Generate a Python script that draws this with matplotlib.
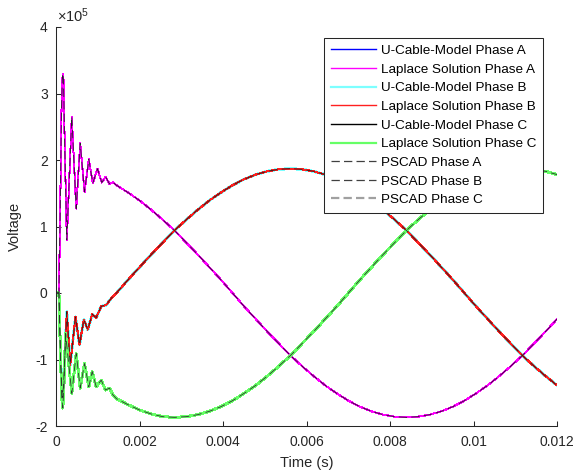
import matplotlib
matplotlib.use("Agg")
import matplotlib.pyplot as plt

plt.rcParams['font.family'] = ['Liberation Sans', 'DejaVu Sans']
plt.rcParams['mathtext.fontset'] = 'custom'
plt.rcParams['mathtext.rm'] = 'Liberation Sans'
plt.rcParams['axes.unicode_minus'] = False
plt.rcParams['lines.scale_dashes'] = False

# ---- data: time in seconds, voltage in units of 1e5 V ----
# switching transient (first ~1.4 ms), per phase
trans_time_a = [0, 0.00007, 0.00010, 0.00013, 0.00015, 0.000163, 0.00018, 0.00021,
                0.000259, 0.000378, 0.000484, 0.000580, 0.000683, 0.000786, 0.000881,
                0.000994, 0.001097, 0.001186, 0.001281, 0.001360]
trans_volt_a = [0, 0.0, 1.2, 2.7, 3.2, 3.30, 3.2, 2.2,
                0.80, 2.65, 1.27, 2.25, 1.52, 2.01, 1.65,
                1.87, 1.66, 1.75, 1.64, 1.665]

trans_time_b = [0, 0.00007, 0.00011, 0.00015, 0.00018, 0.000259, 0.000340, 0.000467,
                0.000563, 0.000666, 0.000762, 0.000867, 0.000963, 0.001083, 0.001202,
                0.001322]
trans_volt_b = [0, 0.0, -1.0, -1.57, -1.40, -0.28, -1.08, -0.36,
                -0.78, -0.40, -0.55, -0.32, -0.37, -0.20, -0.18,
                -0.08]

trans_time_c = [0, 0.00007, 0.00011, 0.00014, 0.000163, 0.00019, 0.000228, 0.000379,
                0.000484, 0.000580, 0.000683, 0.000786, 0.000867, 0.000963, 0.001083,
                0.001186, 0.001281, 0.001360]
trans_volt_c = [0, 0.0, -1.0, -1.6, -1.73, -1.4, -0.61, -1.51,
                -0.91, -1.43, -1.06, -1.41, -1.18, -1.41, -1.31,
                -1.46, -1.43, -1.53]

# quasi steady-state part, common time base
steady_time = [0.001449, 0.001727, 0.002004, 0.002282, 0.002560, 0.002838, 0.003116,
               0.003393, 0.003671, 0.003949, 0.004227, 0.004504, 0.004782, 0.005060,
               0.005338, 0.005616, 0.005893, 0.006171, 0.006449, 0.006727, 0.007004,
               0.007282, 0.007560, 0.007838, 0.008116, 0.008393, 0.008671, 0.008949,
               0.009227, 0.009504, 0.009782, 0.010060, 0.010338, 0.010616, 0.010893,
               0.011171, 0.011449, 0.011727, 0.012004]
steady_volt_a = [1.62, 1.51, 1.39, 1.25, 1.10, 0.94, 0.76, 0.58, 0.39, 0.20, 0.00,
                 -0.20, -0.39, -0.58, -0.76, -0.94, -1.10, -1.25, -1.39, -1.51, -1.62,
                 -1.71, -1.78, -1.83, -1.86, -1.87, -1.86, -1.83, -1.78, -1.71, -1.62,
                 -1.51, -1.39, -1.25, -1.10, -0.94, -0.76, -0.58, -0.39]
steady_volt_b = [0.00, 0.20, 0.39, 0.58, 0.76, 0.94, 1.10, 1.25, 1.39, 1.51, 1.62,
                 1.71, 1.78, 1.83, 1.86, 1.87, 1.86, 1.83, 1.78, 1.71, 1.62,
                 1.51, 1.39, 1.25, 1.10, 0.94, 0.76, 0.58, 0.39, 0.20, 0.00,
                 -0.20, -0.39, -0.58, -0.76, -0.94, -1.10, -1.25, -1.39]
steady_volt_c = [-1.59, -1.68, -1.76, -1.82, -1.86, -1.87, -1.86, -1.83, -1.78, -1.71,
                 -1.62, -1.51, -1.39, -1.25, -1.10, -0.94, -0.76, -0.58, -0.39, -0.20,
                 0.00, 0.20, 0.39, 0.58, 0.76, 0.94, 1.10, 1.25, 1.39, 1.51,
                 1.62, 1.71, 1.78, 1.83, 1.86, 1.87, 1.86, 1.83, 1.78]

x_ticks = [0, 0.002, 0.004, 0.006, 0.008, 0.010, 0.012]
x_tick_labels = ['0', '0.002', '0.004', '0.006', '0.008', '0.01', '0.012']
y_ticks = [-2, -1, 0, 1, 2, 3, 4]
y_tick_labels = ['-2', '-1', '0', '1', '2', '3', '4']

labels = ['U-Cable-Model Phase A', 'Laplace Solution Phase A',
          'U-Cable-Model Phase B', 'Laplace Solution Phase B',
          'U-Cable-Model Phase C', 'Laplace Solution Phase C',
          'PSCAD Phase A', 'PSCAD Phase B', 'PSCAD Phase C']

# ---- assemble full waveforms ----
time_a = trans_time_a + steady_time
volt_a = trans_volt_a + steady_volt_a
time_b = trans_time_b + steady_time
volt_b = trans_volt_b + steady_volt_b
time_c = trans_time_c + steady_time
volt_c = trans_volt_c + steady_volt_c

ink = '#262626'
fig = plt.figure(figsize=(5.85, 4.74), dpi=100)
ax = fig.add_axes([56 / 585, 1 - 426 / 474, 501 / 585, 399 / 474])

thin = 0.75
thick = 1.45
dash = (0, (6, 3))
crisp = dict(antialiased=False, solid_joinstyle='round')
ax.plot(time_a, volt_a, color='#0000ff', lw=thin, label=labels[0], **crisp)
ax.plot(time_a, volt_a, color='#ff00ff', lw=thin, label=labels[1], **crisp)
ax.plot(time_b, volt_b, color='#7dffff', lw=thick, label=labels[2], **crisp)
ax.plot(time_b, volt_b, color='#ff2020', lw=thin, label=labels[3], **crisp)
ax.plot(time_c, volt_c, color='#000000', lw=thin, label=labels[4], **crisp)
ax.plot(time_c, volt_c, color='#66ff66', lw=thick, label=labels[5], **crisp)
ax.plot(time_a, volt_a, color='#202020', lw=0.6, ls=dash, label=labels[6])
ax.plot(time_b, volt_b, color='#202020', lw=0.6, ls=dash, label=labels[7])
ax.plot(time_c, volt_c, color='#303030', lw=0.6, ls=dash, label=labels[8])

ax.set_xlim(0, 0.012)
ax.set_ylim(-2, 4)
ax.set_xticks(x_ticks)
ax.set_xticklabels(x_tick_labels)
ax.set_yticks(y_ticks)
ax.set_yticklabels(y_tick_labels)

for side in ('top', 'right'):
    ax.spines[side].set_visible(False)
for side in ('left', 'bottom'):
    ax.spines[side].set_color(ink)
    ax.spines[side].set_linewidth(0.75)
ax.tick_params(direction='in', length=3.6, width=0.75, colors=ink,
               labelsize=10)
ax.tick_params(axis='x', pad=6.5)
ax.tick_params(axis='y', pad=6)

ax.set_xlabel('Time (s)', fontsize=10.5, color=ink, labelpad=5)
ax.set_ylabel('Voltage', fontsize=10.5, color=ink)
ax.yaxis.set_label_coords(-0.067, 0.5)

ax.annotate(r'$\mathregular{×10^{5}}$', xy=(0, 1), xycoords='axes fraction',
            xytext=(0.5, 3.6), textcoords='offset points',
            ha='left', va='baseline', fontsize=10.5, color=ink)

leg = ax.legend(loc='upper right', bbox_to_anchor=(543 / 585, 1 - 38 / 474),
                bbox_transform=fig.transFigure, borderaxespad=0,
                fontsize=9.7, handlelength=3.3, handletextpad=0.4,
                labelspacing=0.46, borderpad=0.5, fancybox=False,
                framealpha=1, edgecolor=ink)
leg.get_frame().set_linewidth(0.75)
# legend keys: solid keys a little bolder, PSCAD keys as clear dark / light-grey dashes
keys = leg.legend_handles
for k in (0, 1, 3, 4):
    keys[k].set_linewidth(1.0)
for k in (2, 5):
    keys[k].set_linewidth(1.6)
for k in (6, 7):
    keys[k].set_linewidth(0.9)
    keys[k].set_color('#404040')
keys[8].set_color('#a0a0a0')
keys[8].set_linewidth(1.6)

fig.savefig('out.png', dpi=100)
